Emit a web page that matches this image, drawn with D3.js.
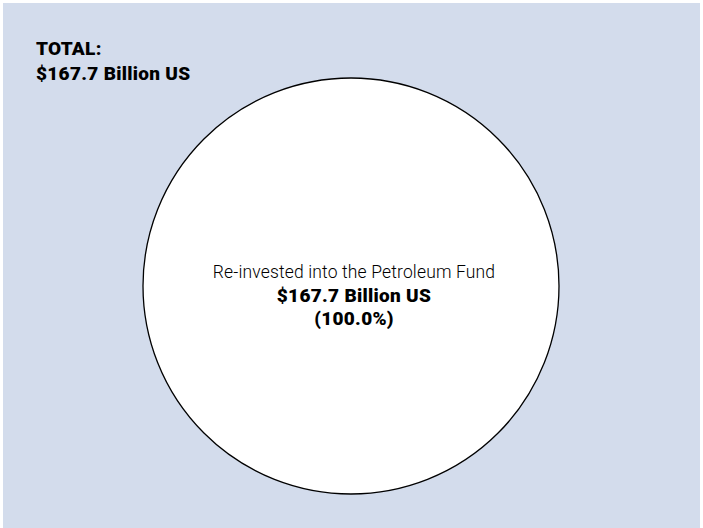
<!DOCTYPE html>
<html>
<head>
<meta charset="utf-8">
<script src="https://cdn.jsdelivr.net/npm/d3@7"></script>
<style>
  html, body { margin: 0; padding: 0; background: #ffffff; }
  svg { display: block; }
</style>
</head>
<body>
<svg id="chart" width="703" height="528"></svg>
<script>
// Allocation of fund income
const categories = ["Re-invested into the Petroleum Fund"];
const values = [167.7]; // billion US$
const unitLabel = "Billion US";

const total = d3.sum(values);
const fmtMoney = v => "$" + d3.format(".1f")(v) + " " + unitLabel;
const fmtPct = v => "(" + d3.format(".1f")(v * 100) + "%)";

const svg = d3.select("#chart");
const W = 703, H = 528;

// panel background
svg.append("rect")
  .attr("x", 3).attr("y", 3)
  .attr("width", 697).attr("height", H - 3)
  .attr("fill", "#d3dcec");

// total label
const totalText = svg.append("text")
  .attr("x", 36).attr("y", 55)
  .attr("font-family", "Roboto, 'Liberation Sans', sans-serif")
  .attr("font-weight", 900)
  .attr("font-size", 19)
  .attr("letter-spacing", 0.3)
  .attr("fill", "#000");
totalText.append("tspan").attr("x", 36).attr("dy", 0).text("TOTAL:");
totalText.append("tspan").attr("x", 36).attr("dy", 25).text(fmtMoney(total));

// pie
const cx = 351, cy = 286, r = 208;
const pie = d3.pie().sort(null).value(d => d.value);
const arc = d3.arc().innerRadius(0).outerRadius(r);
const data = categories.map((c, i) => ({ name: c, value: values[i] }));
const arcs = pie(data);

const g = svg.append("g").attr("transform", `translate(${cx},${cy})`);
g.selectAll("path.slice")
  .data(arcs)
  .join("path")
  .attr("class", "slice")
  .attr("d", arc)
  .attr("fill", "#ffffff")
  .attr("stroke", "#000000")
  .attr("stroke-width", 1.3);

// slice labels
arcs.forEach(a => {
  const full = (a.endAngle - a.startAngle) >= 2 * Math.PI - 1e-6;
  const [lx, ly] = full ? [3, -8] : arc.centroid(a);
  const t = g.append("text")
    .attr("x", lx).attr("y", ly)
    .attr("text-anchor", "middle")
    .attr("font-family", "Roboto, 'Liberation Sans', sans-serif")
    .attr("fill", "#000");
  t.append("tspan").attr("x", lx).attr("dy", 0)
    .attr("font-weight", 300).attr("font-size", 17.5)
    .attr("letter-spacing", 0.15)
    .text(a.data.name);
  t.append("tspan").attr("x", lx).attr("dy", 24)
    .attr("font-weight", 900).attr("font-size", 19)
    .attr("letter-spacing", 0.3)
    .text(fmtMoney(a.data.value));
  t.append("tspan").attr("x", lx).attr("dy", 23)
    .attr("font-weight", 900).attr("font-size", 19)
    .attr("letter-spacing", 0.3)
    .text(fmtPct(a.data.value / total));
});
</script>
</body>
</html>
